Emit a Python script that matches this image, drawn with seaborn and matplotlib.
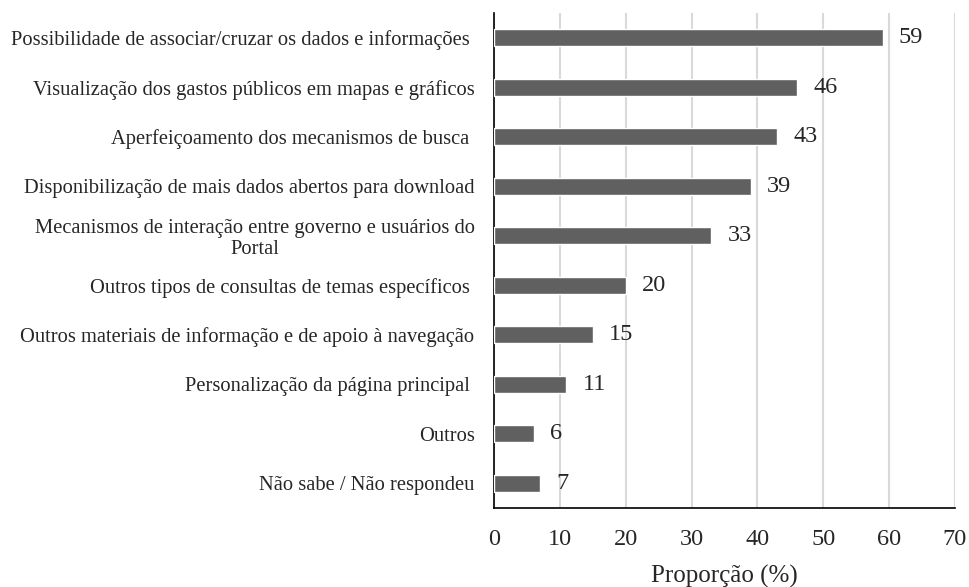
import matplotlib
matplotlib.use("Agg")
import matplotlib.pyplot as plt
import seaborn as sns
import pandas as pd

categories = [
    "Possibilidade de associar/cruzar os dados e informações ",
    "Visualização dos gastos públicos em mapas e gráficos",
    "Aperfeiçoamento dos mecanismos de busca ",
    "Disponibilização de mais dados abertos para download",
    "Mecanismos de interação entre governo e usuários do\nPortal",
    "Outros tipos de consultas de temas específicos ",
    "Outros materiais de informação e de apoio à navegação",
    "Personalização da página principal ",
    "Outros",
    "Não sabe / Não respondeu",
]
values = [59, 46, 43, 39, 33, 20, 15, 11, 6, 7]
x_ticks = [0, 10, 20, 30, 40, 50, 60, 70]
x_label = "Proporção (%)"

df = pd.DataFrame({"categoria": categories, "valor": values})

sns.set_style("white")
plt.rcParams["font.family"] = ["Liberation Serif", "DejaVu Serif"]

fig = plt.figure(figsize=(9.7, 5.87), dpi=100)
ax = fig.add_axes([0.5093, 0.1346, 0.4752, 0.8433])

sns.barplot(data=df, x="valor", y="categoria", orient="h", color="#606060",
            width=0.35, saturation=1, ax=ax, zorder=3)

ax.set_xlim(0, 70)
ax.set_ylim(9.5, -0.5)
ax.set_xticks(x_ticks)
ax.xaxis.grid(True, color="#d9d9d9", linewidth=1.5, zorder=0)
ax.yaxis.grid(False)
ax.set_axisbelow(True)

for s in ["top", "right"]:
    ax.spines[s].set_visible(False)
for s in ["left", "bottom"]:
    ax.spines[s].set_color("black")
    ax.spines[s].set_linewidth(1.2)

ax.tick_params(axis="y", length=0, pad=14, labelsize=14.8)
ax.tick_params(axis="x", length=0, pad=15, labelsize=17.5)
for lbl in ax.get_yticklabels():
    lbl.set_multialignment("center")
    lbl.set_linespacing(1.1)

ax.set_ylabel("")
ax.set_xlabel(x_label, fontsize=18, labelpad=11)

for i, v in enumerate(values):
    ax.text(v + 2.5, i, str(v), va="center", ha="left", fontsize=17.5)

fig.savefig("out.png", dpi=100)
